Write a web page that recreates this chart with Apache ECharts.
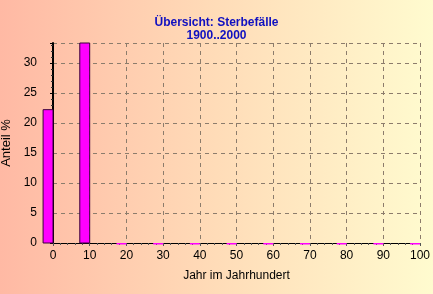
<!DOCTYPE html>
<html>
<head>
<meta charset="utf-8">
<script src="https://cdn.jsdelivr.net/npm/echarts@6/dist/echarts.min.js"></script>
<style>
html,body{margin:0;padding:0;}
#c{width:433px;height:294px;background:linear-gradient(to right,#ffb9a4 0%,#ffdcb8 50%,#fffbcf 100%);}
</style>
</head>
<body>
<div id="c"></div>
<script>
const titleLines = ['Übersicht: Sterbefälle', '1900..2000'];
const xName = 'Jahr im Jahrhundert';
const yName = 'Anteil %';
const decades = [0, 10, 20, 30, 40, 50, 60, 70, 80, 90, 100];
const shares = [22.2, 33.3, 0.15, 0.15, 0.15, 0.15, 0.15, 0.15, 0.15, 0.15, 0.15];
const BAR_SPAN = 2.7;
const FONT = '"Liberation Sans", Arial, sans-serif';

const chart = echarts.init(document.getElementById('c'), null, {renderer: 'canvas'});
chart.setOption({
  animation: false,
  backgroundColor: 'transparent',
  title: {
    text: titleLines.join('\n'),
    left: 'center', top: 11, itemGap: 0,
    textStyle: {color: '#1010c0', fontSize: 12, fontWeight: 'bold', fontFamily: FONT, lineHeight: 13}
  },
  grid: {left: 53, right: 13, top: 43, bottom: 51, containLabel: false, outerBoundsMode: 'none'},
  xAxis: [{
    type: 'value', min: 0, max: 100, interval: 10,
    name: xName, nameLocation: 'middle', nameGap: 27,
    nameTextStyle: {color: '#000', fontSize: 12, fontFamily: FONT},
    axisLine: {show: true, onZero: false, lineStyle: {color: '#000', width: 1}},
    axisTick: {show: true, length: 3, lineStyle: {color: '#555'}},
    minorTick: {show: true, splitNumber: 5, length: 2, lineStyle: {color: '#555'}},
    axisLabel: {color: '#000', fontSize: 12, fontFamily: FONT, margin: 7},
    splitLine: {show: true, lineStyle: {color: '#8c7c6c', type: [4, 4], width: 1}}
  }, {
    type: 'value', min: 0, max: 100, position: 'top',
    axisLine: {show: true, lineStyle: {color: '#000', width: 1}},
    axisTick: {show: false}, axisLabel: {show: false}, splitLine: {show: false}
  }],
  yAxis: {
    type: 'value', min: 0, max: 33.3, interval: 5, offset: 11,
    name: yName, nameLocation: 'middle', nameGap: 27, nameRotate: 90,
    nameTextStyle: {color: '#000', fontSize: 13, fontFamily: FONT},
    axisLine: {show: true, lineStyle: {color: '#000', width: 2}},
    axisTick: {show: true, length: 3, lineStyle: {color: '#000'}},
    minorTick: {show: true, splitNumber: 5, length: 2, lineStyle: {color: '#333'}},
    axisLabel: {color: '#000', fontSize: 12, fontFamily: FONT, margin: 5, showMaxLabel: false},
    splitLine: {show: true, lineStyle: {color: '#8c7c6c', type: [4, 4], width: 1}}
  },
  series: [{
    type: 'custom',
    clip: false,
    z: 1,
    encode: {x: 0, y: 1},
    data: decades.map((d, i) => [d, shares[i]]),
    renderItem: function (params, api) {
      const p0 = api.coord([api.value(0) - BAR_SPAN, api.value(1)]);
      const p1 = api.coord([api.value(0), 0]);
      const h = p1[1] - p0[1];
      const big = h > 3;
      return {
        type: 'rect',
        shape: {x: p0[0], y: big ? p0[1] : p1[1], width: p1[0] - p0[0], height: big ? h : 1.5},
        style: {fill: '#ff00ff', stroke: big ? '#3a003a' : null, lineWidth: 1}
      };
    }
  }]
});
</script>
</body>
</html>
